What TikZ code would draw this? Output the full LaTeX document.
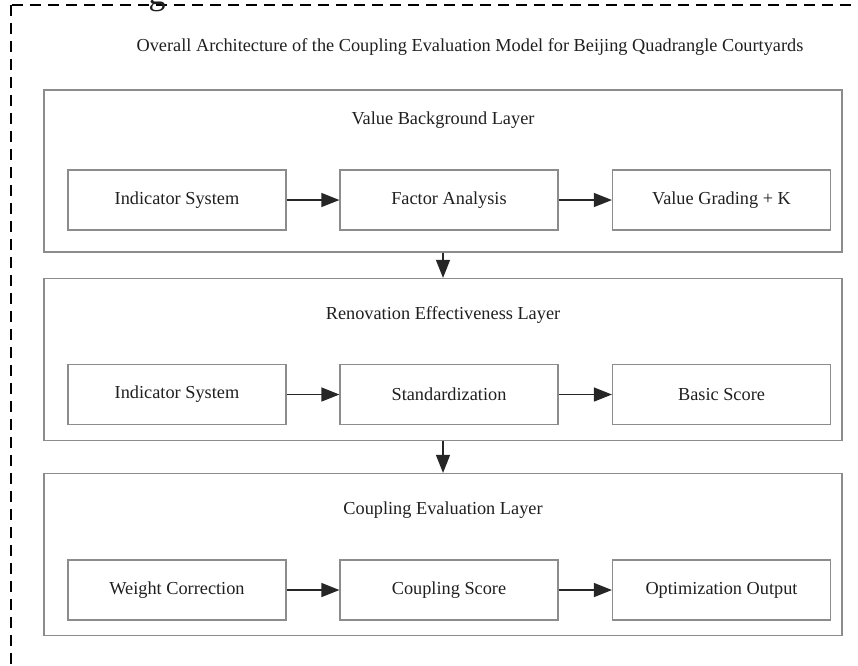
\documentclass[tikz,border=0pt]{standalone}
\usepackage{fontspec}
\setmainfont{Liberation Serif}
\usetikzlibrary{arrows.meta}
\begin{document}
\begin{tikzpicture}[x=1pt,y=-1pt,
  txt/.style={text=black!88,font=\fontsize{18.3}{22}\selectfont},
  layerbox/.style={draw=black!45,line width=1.2pt,minimum width=798pt,minimum height=162pt,inner sep=0pt},
  stepbox/.style={txt,draw=black!45,line width=1.2pt,minimum width=218pt,minimum height=60pt,inner sep=0pt},
  flow/.style={-{Triangle[length=18pt,width=14pt]},line width=1.3pt,draw=black!85}]
\useasboundingbox (0,0) rectangle (858,665);
\draw[line width=1.4pt,dash pattern=on 11pt off 7pt] (11,5) rectangle (880,690);
\node[text=black!88,font=\fontsize{34}{40}\selectfont,anchor=base] (cut) at (157,4) {g};
\node[txt] (title) at (470,47) {Overall Architecture of the Coupling Evaluation Model for Beijing Quadrangle Courtyards};
\node[layerbox] (value) at (443,171) {};
\node[layerbox] (reno) at (443,359.5) {};
\node[layerbox] (coup) at (443,554.5) {};
\node[txt] (valuelbl) at (443,120) {Value Background Layer};
\node[txt] (renolbl) at (443,315) {Renovation Effectiveness Layer};
\node[txt] (couplbl) at (443,510) {Coupling Evaluation Layer};
\node[stepbox] (v1) at (177,200) {Indicator System};
\node[stepbox] (v2) at (449,200) {Factor Analysis};
\node[stepbox] (v3) at (721.5,200) {Value Grading + K};
\node[stepbox] (r1) at (177,394.5) {Indicator System};
\node[stepbox] (r2) at (449,394.5) {Standardization};
\node[stepbox] (r3) at (721.5,394.5) {Basic Score};
\node[stepbox] (c1) at (177,590) {Weight Correction};
\node[stepbox] (c2) at (449,590) {Coupling Score};
\node[stepbox] (c3) at (721.5,590) {Optimization Output};
\draw[flow] (v1)--(v2);
\draw[flow] (v2)--(v3);
\draw[flow] (r1)--(r2);
\draw[flow] (r2)--(r3);
\draw[flow] (c1)--(c2);
\draw[flow] (c2)--(c3);
\draw[flow] (value.south)--(reno.north);
\draw[flow] (reno.south)--(coup.north);
\end{tikzpicture}
\end{document}
